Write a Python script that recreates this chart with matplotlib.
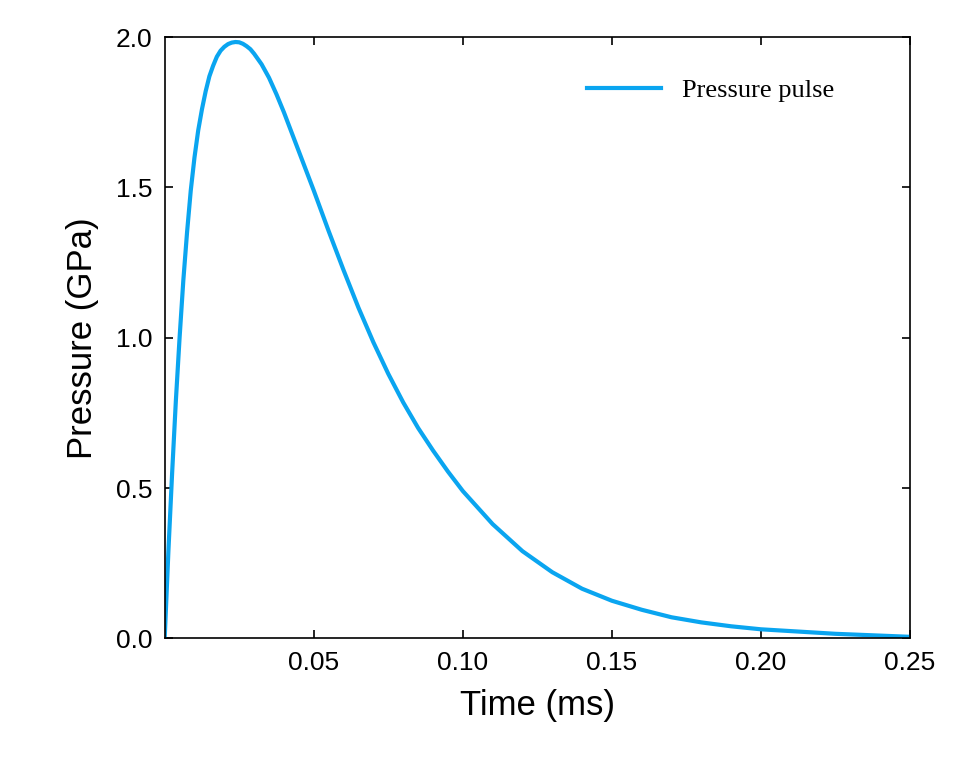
import matplotlib.pyplot as plt

time_ms = [0, 0.00125, 0.0025, 0.00375, 0.005, 0.00625, 0.0075, 0.00875, 0.01, 0.01125,
           0.0125, 0.01375, 0.015, 0.01625, 0.0175, 0.01875, 0.02, 0.02125, 0.0225, 0.02375,
           0.025, 0.02625, 0.0275, 0.02875, 0.03, 0.0325, 0.035, 0.0375, 0.04, 0.045,
           0.05, 0.055, 0.06, 0.065, 0.07, 0.075, 0.08, 0.085, 0.09, 0.095, 0.10,
           0.11, 0.12, 0.13, 0.14, 0.15, 0.16, 0.17, 0.18, 0.19, 0.20, 0.225, 0.25]
pressure_gpa = [0, 0.29, 0.55, 0.79, 1.0, 1.19, 1.35, 1.49, 1.6, 1.69,
                1.76, 1.82, 1.87, 1.905, 1.935, 1.955, 1.968, 1.977, 1.982, 1.984,
                1.983, 1.978, 1.97, 1.96, 1.945, 1.91, 1.865, 1.81, 1.75, 1.62,
                1.49, 1.355, 1.225, 1.1, 0.985, 0.88, 0.785, 0.7, 0.625, 0.555, 0.49,
                0.38, 0.29, 0.22, 0.165, 0.125, 0.095, 0.07, 0.053, 0.04, 0.03, 0.015, 0.005]
x_ticks = [0.05, 0.10, 0.15, 0.20, 0.25]
y_ticks = [0.0, 0.5, 1.0, 1.5, 2.0]

fig = plt.figure(figsize=(9.63, 7.59), dpi=100)
ax = fig.add_axes([0.171, 0.159, 0.774, 0.792])
ax.plot(time_ms, pressure_gpa, color="#0aa5f0", lw=3, label="Pressure pulse")
ax.set_xlim(0, 0.25)
ax.set_ylim(0, 2.0)
ax.set_xticks(x_ticks)
ax.set_xticklabels([f"{v:.2f}" for v in x_ticks])
ax.set_yticks(y_ticks)
ax.set_yticklabels([f"{v:.1f}" for v in y_ticks])
ax.tick_params(direction="in", top=True, right=True, length=6, width=1.2,
               labelsize=19, pad=9)
for lab in ax.get_xticklabels() + ax.get_yticklabels():
    lab.set_family("Liberation Sans")
for s in ax.spines.values():
    s.set_linewidth(1.2)
ax.set_xlabel("Time (ms)", fontsize=25, family="Liberation Sans", labelpad=10)
ax.set_ylabel("Pressure (GPa)", fontsize=25, family="Liberation Sans", labelpad=12)
ax.legend(loc="upper right", bbox_to_anchor=(0.93, 0.97), frameon=False,
          handlelength=2.8, prop={"family": "Liberation Serif", "size": 19})
fig.savefig("out.png", dpi=100)
